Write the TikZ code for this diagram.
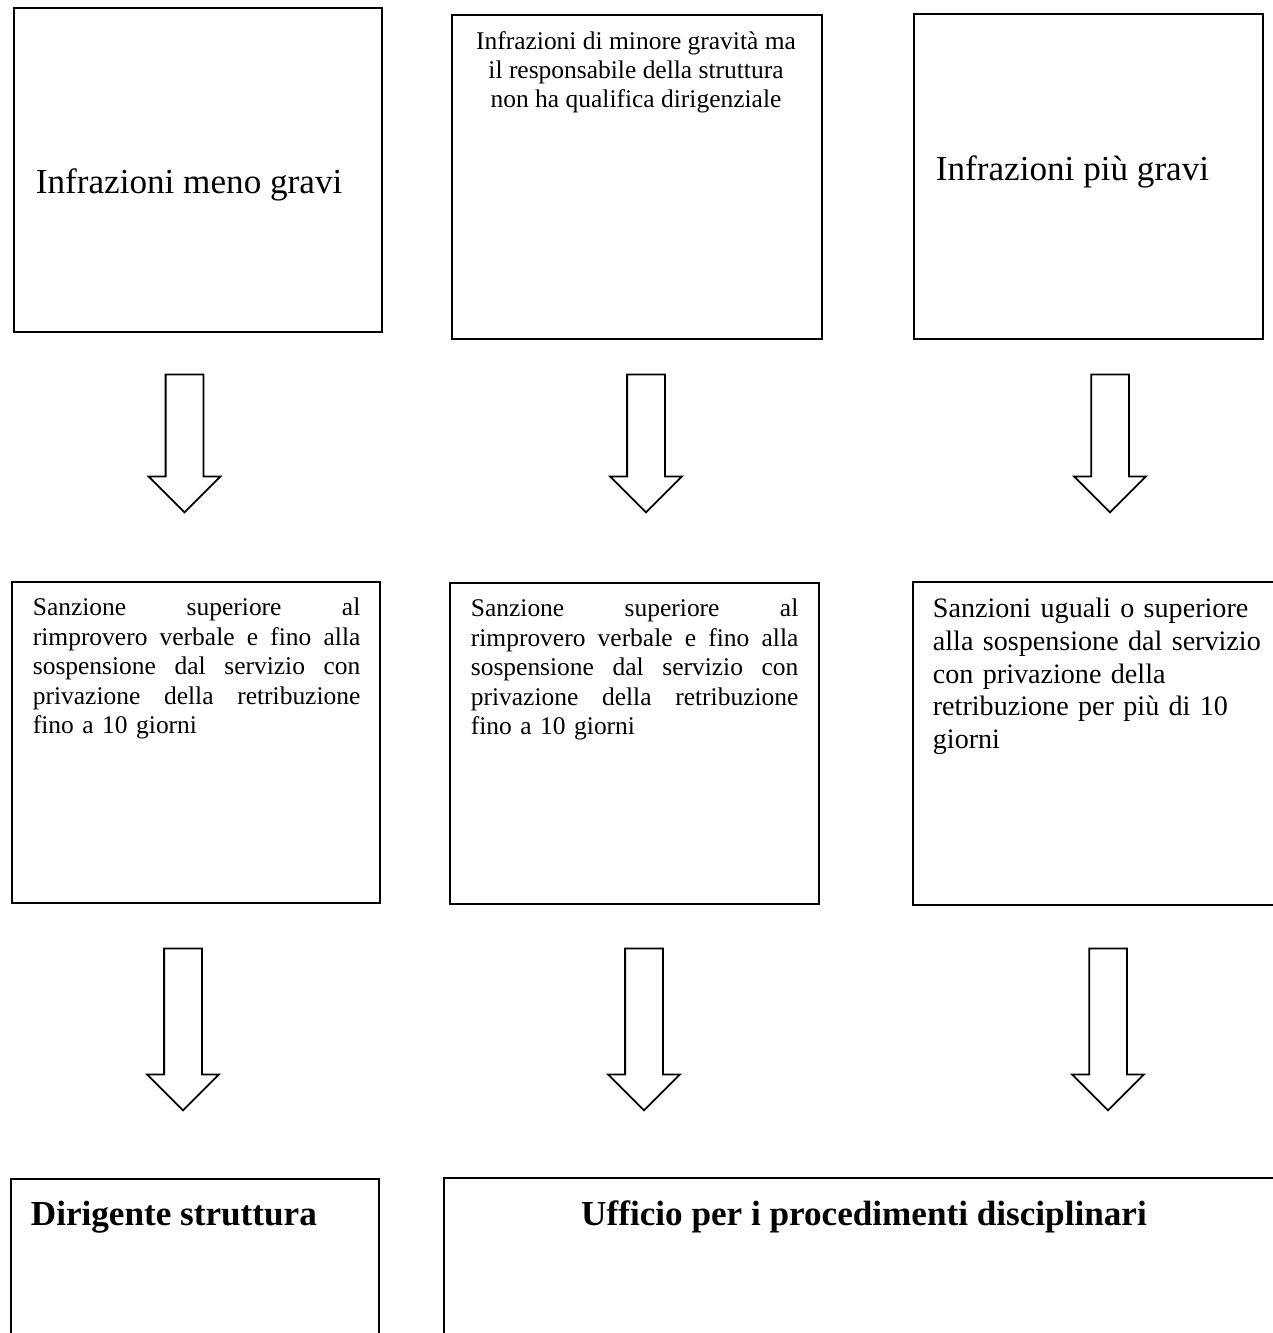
\documentclass[tikz,border=0pt]{standalone}
\usepackage{fontspec}
\setmainfont{Liberation Serif}
\usetikzlibrary{positioning,shapes.arrows}

% justified line of the given width (all word gaps stretch equally)
\newcommand{\fullline}[1]{\leavevmode\hbox to 6.55cm{\spaceskip=0.25em plus 1fil\relax #1}\\}

\begin{document}
\begin{tikzpicture}[
		line width=1pt,
		frame_box/.style={rectangle, draw=black, anchor=north west, inner sep=0pt},
		big_label/.style={font=\fontsize{20}{24}\selectfont, inner sep=0pt, anchor=base west},
		head_label/.style={font=\bfseries\fontsize{20}{24}\selectfont, inner sep=0pt},
		small_text/.style={font=\fontsize{14.5}{16.8}\selectfont, inner sep=0pt, anchor=north west, align=left, text width=6.55cm},
		medium_text/.style={font=\fontsize{16}{18.7}\selectfont, inner sep=0pt, anchor=north west, align=left, text width=6.7cm},
		down_arrow/.style={
			single arrow, draw=black, fill=white, rotate=-90, inner xsep=0pt, inner ysep=0.36cm,
			single arrow head extend=0.34cm, single arrow tip angle=90
		}
		]
		
		\clip (0,0) rectangle (25.46,-26.66);
		
		% --- TOP ROW (Infrazioni) ---
		\node[frame_box, minimum width=7.36cm, minimum height=6.48cm] (inf_low) at (0.26,-0.14) {};
		\node[frame_box, minimum width=7.40cm, minimum height=6.48cm] (inf_mid) at (9.02,-0.28) {};
		\node[frame_box, minimum width=6.98cm, minimum height=6.50cm] (inf_high) at (18.26,-0.26) {};
		
		\node[big_label] (inf_low_txt) at (0.70,-3.86) {Infrazioni meno gravi};
		\node[font=\fontsize{14.5}{16.5}\selectfont, inner sep=0pt, anchor=north, align=center] (inf_mid_txt) at (12.72,-0.62)
			{Infrazioni di minore gravità ma\\il responsabile della struttura\\non ha qualifica dirigenziale};
		\node[big_label] (inf_high_txt) at (18.70,-3.60) {Infrazioni più gravi};
		
		% --- FIRST ARROWS ---
		\node[down_arrow, minimum height=2.76cm] (arr_low_a) at (3.69,-8.68) {};
		\node[down_arrow, minimum height=2.76cm] (arr_mid_a) at (12.92,-8.68) {};
		\node[down_arrow, minimum height=2.76cm] (arr_high_a) at (22.20,-8.68) {};
		
		% --- MIDDLE ROW (Sanzioni) ---
		\node[frame_box, minimum width=7.36cm, minimum height=6.42cm] (san_low) at (0.22,-11.62) {};
		\node[frame_box, minimum width=7.38cm, minimum height=6.42cm] (san_mid) at (8.98,-11.64) {};
		\node[frame_box, minimum width=7.80cm, minimum height=6.46cm] (san_high) at (18.24,-11.62) {};
		
		\node[small_text] (san_low_txt) at (0.64,-11.94)
			{\fullline{Sanzione superiore al}\fullline{rimprovero verbale e fino alla}\fullline{sospensione dal servizio con}\fullline{privazione della retribuzione}fino a 10 giorni};
		\node[small_text] (san_mid_txt) at (9.40,-11.96)
			{\fullline{Sanzione superiore al}\fullline{rimprovero verbale e fino alla}\fullline{sospensione dal servizio con}\fullline{privazione della retribuzione}fino a 10 giorni};
		\node[medium_text] (san_high_txt) at (18.64,-11.94)
			{Sanzioni uguali o superiore\\alla sospensione dal servizio\\con privazione della\\retribuzione per più di 10\\giorni};
		
		% --- SECOND ARROWS ---
		\node[down_arrow, minimum height=3.24cm] (arr_low_b) at (3.66,-20.40) {};
		\node[down_arrow, minimum height=3.24cm] (arr_mid_b) at (12.88,-20.40) {};
		\node[down_arrow, minimum height=3.24cm] (arr_high_b) at (22.16,-20.40) {};
		
		% --- BOTTOM ROW (competenza) ---
		\node[frame_box, minimum width=7.36cm, minimum height=4.5cm] (dir) at (0.20,-23.56) {};
		\node[frame_box, minimum width=17.0cm, minimum height=4.5cm] (upd) at (8.86,-23.54) {};
		
		\node[head_label, anchor=base west] (dir_txt) at (0.60,-24.50) {Dirigente struttura};
		\node[head_label, anchor=base] (upd_txt) at (17.28,-24.50) {Ufficio per i procedimenti disciplinari};
		
	\end{tikzpicture}
\end{document}
